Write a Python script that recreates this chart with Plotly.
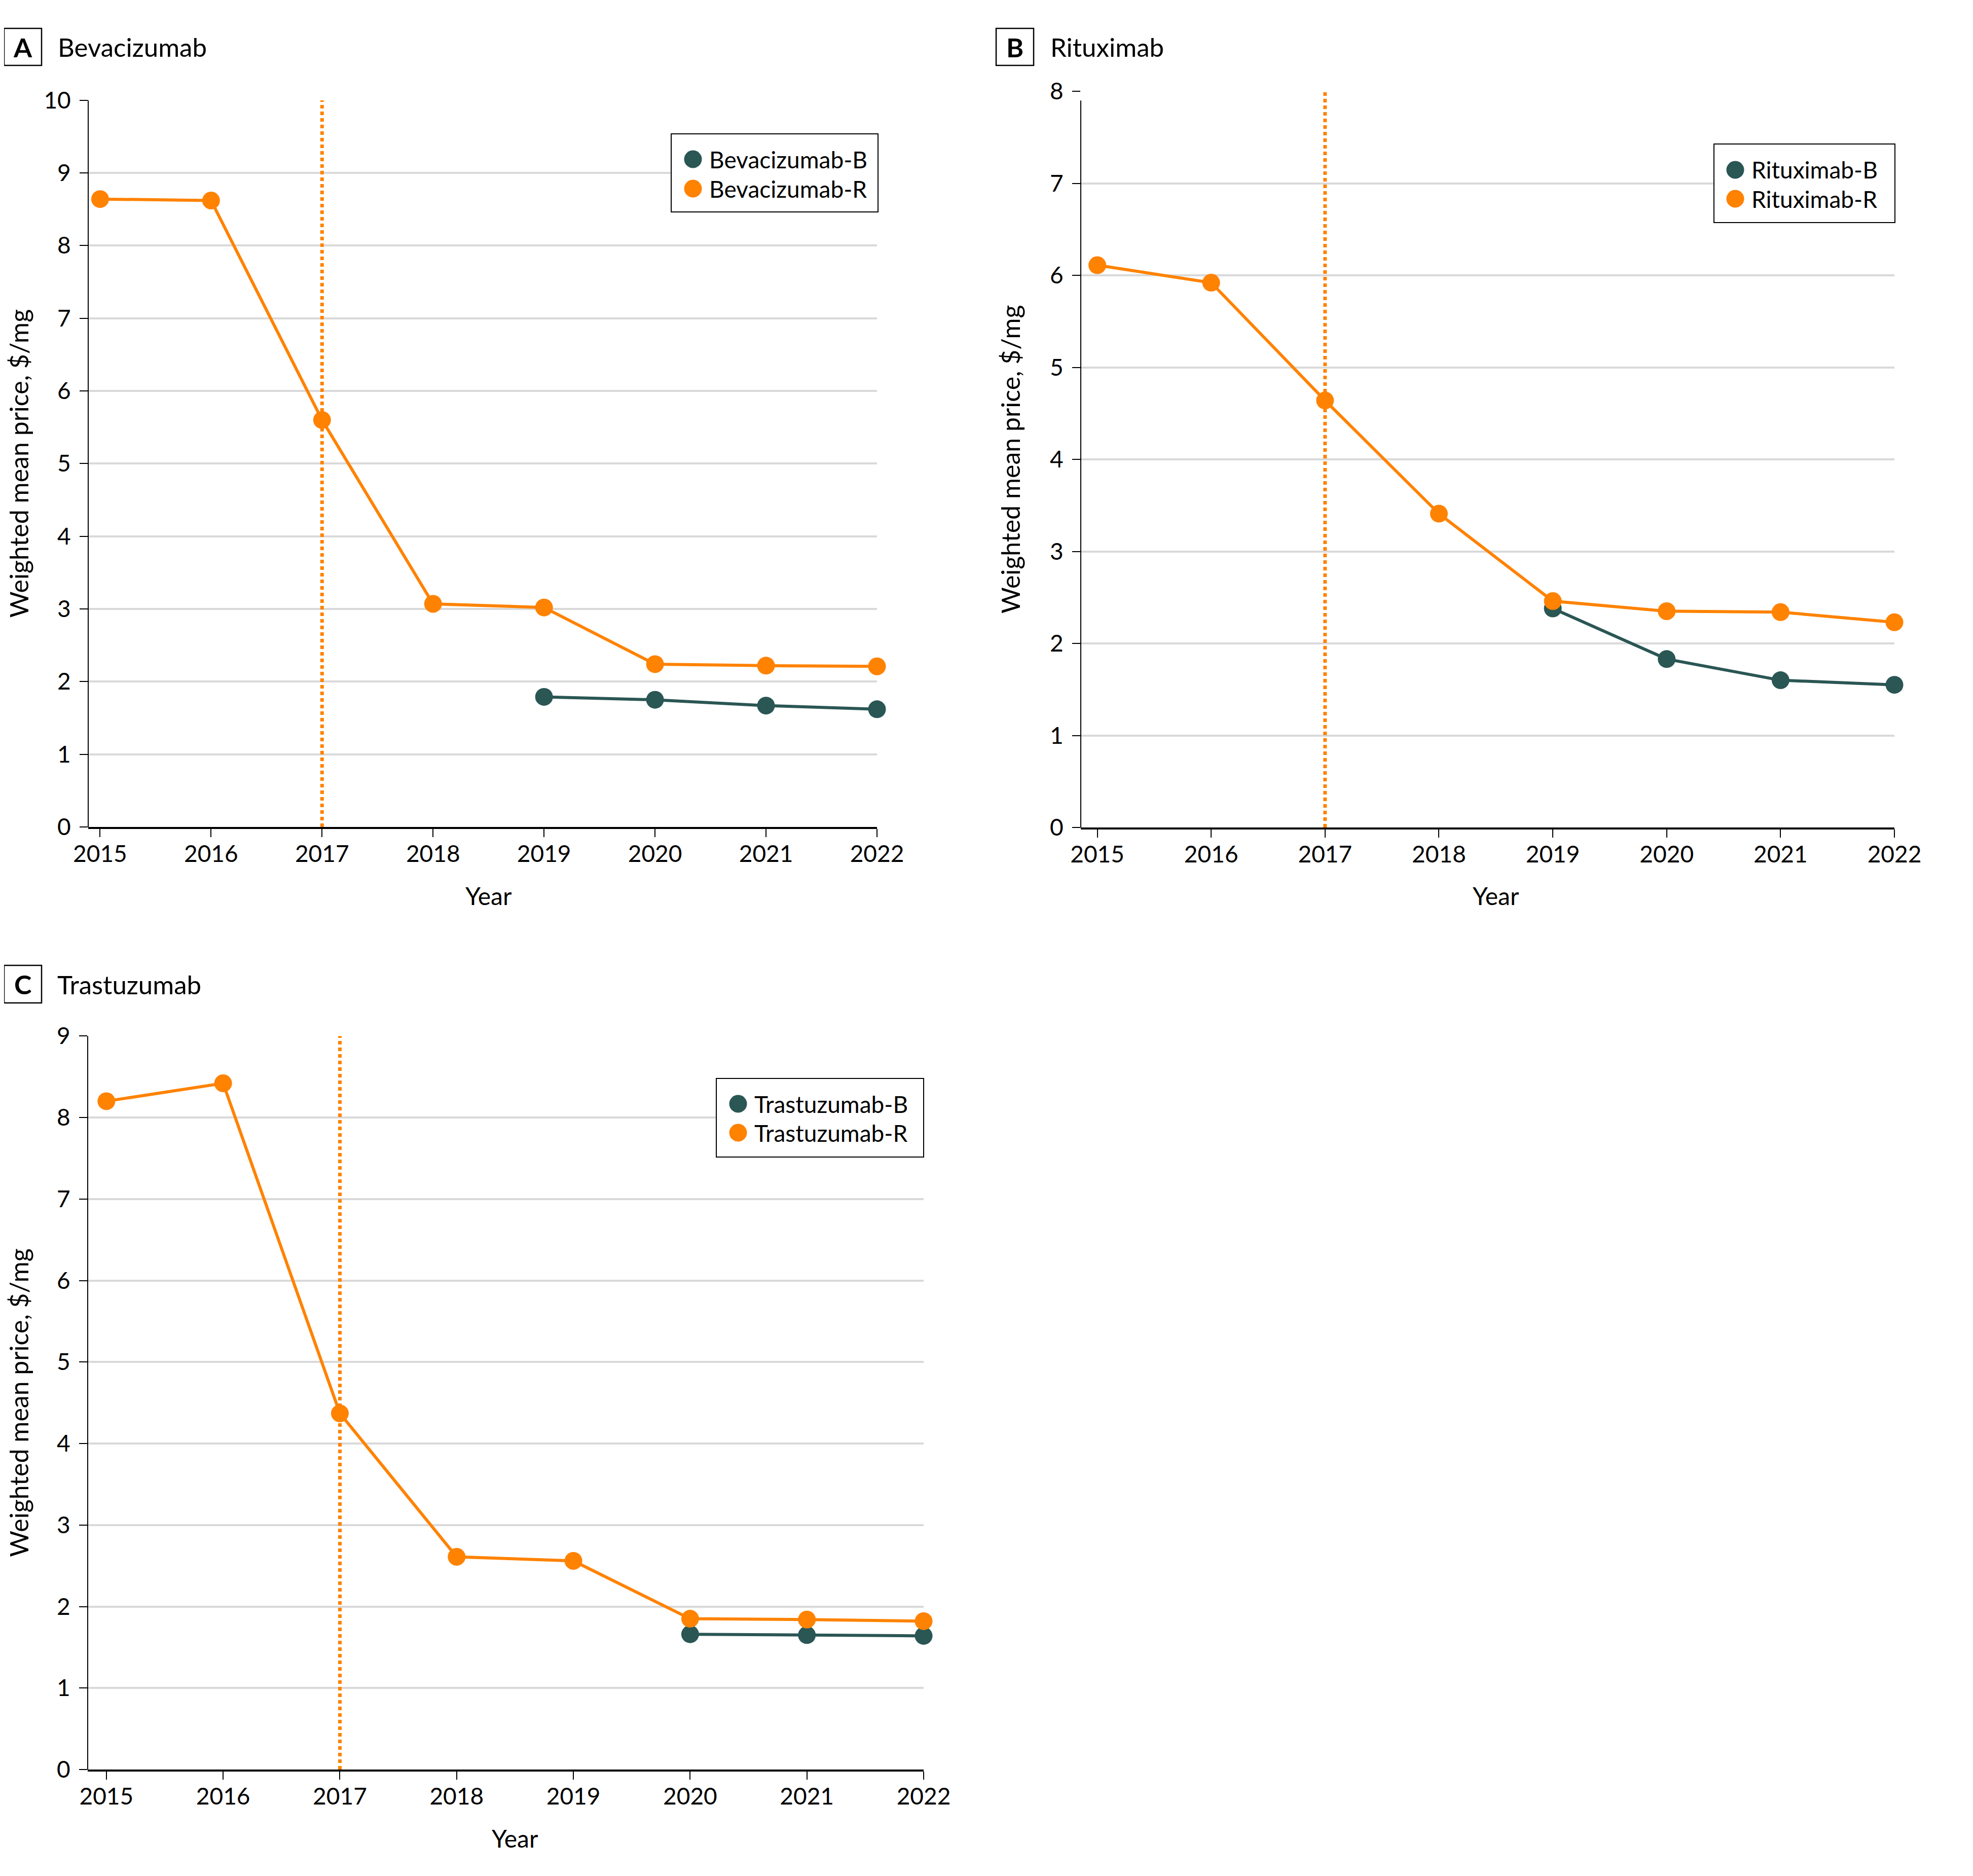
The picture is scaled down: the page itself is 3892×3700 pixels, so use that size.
import plotly.graph_objects as go

W, H = 3892, 3700
OFF = 8  # page body margin offset

# ---------------- data ----------------
years = [2015, 2016, 2017, 2018, 2019, 2020, 2021, 2022]

bev_r = [8.64, 8.62, 5.60, 3.07, 3.02, 2.24, 2.22, 2.21]
bev_b_years = [2019, 2020, 2021, 2022]
bev_b = [1.79, 1.75, 1.67, 1.62]

rit_r = [6.11, 5.92, 4.64, 3.41, 2.46, 2.35, 2.34, 2.23]
rit_b_years = [2019, 2020, 2021, 2022]
rit_b = [2.38, 1.83, 1.60, 1.55]

tra_r = [8.20, 8.42, 4.37, 2.61, 2.56, 1.85, 1.84, 1.82]
tra_b_years = [2020, 2021, 2022]
tra_b = [1.66, 1.65, 1.64]

panel_letters = ["A", "B", "C"]
panel_names = ["Bevacizumab", "Rituximab", "Trastuzumab"]
y_title = "Weighted mean price, $/mg"
x_title = "Year"
switch_year = 2017

ORANGE = "#FF8200"
TEAL = "#2A5654"
FONT = "Lato"


def px(x):
    return (x - OFF) / W


def py(y):
    return 1 - (y - OFF) / H


fig = go.Figure()

panels = [
    dict(name=panel_names[0], letter=panel_letters[0], r=bev_r, by=bev_b_years, b=bev_b,
         xa="x", ya="y", xdom=(174, 1730), ydom=(197.7, 1631), xmin=2014.893, ymax=10, yline_top=10,
         box=(8, 56, 82, 129), title_x=112,
         leg=(1324, 264, 1732, 418), leg_mx=1367, leg_rows=(314, 372),
         ytitle_x=37),
    dict(name=panel_names[1], letter=panel_letters[1], r=rit_r, by=rit_b_years, b=rit_b,
         xa="x2", ya="y2", xdom=(2132, 3737), ydom=(180, 1632), xmin=2014.855, ymax=8, yline_top=7.9,
         box=(1965, 56, 2039, 129), title_x=2070,
         leg=(3381, 284, 3738, 439), leg_mx=3423, leg_rows=(335, 392),
         ytitle_x=1993),
    dict(name=panel_names[2], letter=panel_letters[2], r=tra_r, by=tra_b_years, b=tra_b,
         xa="x3", ya="y3", xdom=(173, 1822), ydom=(2043.3, 3490), xmin=2014.84, ymax=9, yline_top=9,
         box=(8, 1904, 82, 1978), title_x=111,
         leg=(1413, 2127, 1822, 2282), leg_mx=1456, leg_rows=(2177, 2234),
         ytitle_x=37),
]

shapes = []
annotations = []

for i, p in enumerate(panels):
    # traces
    fig.add_trace(go.Scatter(
        x=p["by"], y=p["b"], mode="lines+markers", xaxis=p["xa"], yaxis=p["ya"],
        line=dict(color=TEAL, width=6), marker=dict(color=TEAL, size=35),
        cliponaxis=False, showlegend=False, name=p["name"] + "-B"))
    fig.add_trace(go.Scatter(
        x=years, y=p["r"], mode="lines+markers", xaxis=p["xa"], yaxis=p["ya"],
        line=dict(color=ORANGE, width=6), marker=dict(color=ORANGE, size=35),
        cliponaxis=False, showlegend=False, name=p["name"] + "-R"))

    sfx = "" if i == 0 else str(i + 1)
    xkey = "xaxis" + sfx
    ykey = "yaxis" + sfx
    tickfont = dict(family=FONT, size=46, color="black")
    fig.update_layout(**{
        xkey: dict(domain=[px(p["xdom"][0]), px(p["xdom"][1])], range=[p["xmin"], 2022],
                   anchor=p["ya"], tickmode="array", tickvals=years,
                   ticktext=[str(y) for y in years], automargin=False,
                   showgrid=False, zeroline=False, showline=True, linecolor="black",
                   linewidth=4, ticks="outside", ticklen=16, tickwidth=2, tickcolor="black",
                   tickfont=tickfont, ticklabelstandoff=-6),
        ykey: dict(domain=[py(p["ydom"][1]), py(p["ydom"][0])], range=[0, p["ymax"]],
                   anchor=p["xa"], tick0=0, dtick=1, showgrid=True, gridcolor="#d9d9d9",
                   gridwidth=3.5, zeroline=False, showline=False, ticks="outside",
                   ticklen=16, tickwidth=2, tickcolor="black", tickfont=tickfont,
                   ticklabelstandoff=8, automargin=False),
    })

    # y axis line
    shapes.append(dict(type="line", xref=p["xa"] + " domain", yref=p["ya"],
                       x0=0, x1=0, y0=0, y1=p["yline_top"],
                       line=dict(color="black", width=2), layer="above"))
    # dotted line at switch year
    shapes.append(dict(type="line", xref=p["xa"], yref=p["ya"],
                       x0=switch_year, x1=switch_year, y0=0, y1=p["ymax"],
                       line=dict(color=ORANGE, width=7, dash="7px,6px"), layer="between"))

    # panel letter box
    bx0, by0, bx1, by1 = p["box"]
    shapes.append(dict(type="rect", xref="paper", yref="paper",
                       x0=px(bx0), x1=px(bx1), y0=py(by1), y1=py(by0),
                       line=dict(color="black", width=2.5), fillcolor="white"))
    annotations.append(dict(xref="paper", yref="paper", x=px((bx0 + bx1) / 2),
                            y=py((by0 + by1) / 2), text="<b>" + p["letter"] + "</b>",
                            showarrow=False, xanchor="center", yanchor="middle",
                            font=dict(family=FONT, size=52, color="black")))
    annotations.append(dict(xref="paper", yref="paper", x=px(p["title_x"]),
                            y=py((by0 + by1) / 2), text=p["name"],
                            showarrow=False, xanchor="left", yanchor="middle",
                            font=dict(family=FONT, size=51, color="black")))

    # axis titles
    annotations.append(dict(xref=p["xa"], yref="paper", x=2018.5,
                            y=py(p["ydom"][1] + 135), text=x_title,
                            showarrow=False, xanchor="center", yanchor="middle",
                            font=dict(family=FONT, size=48, color="black")))
    annotations.append(dict(xref="paper", yref="paper", x=px(p["ytitle_x"]),
                            y=py((p["ydom"][0] + p["ydom"][1]) / 2), text=y_title,
                            textangle=-90, showarrow=False, xanchor="center",
                            yanchor="middle",
                            font=dict(family=FONT, size=50, color="black")))

    # legend box
    lx0, ly0, lx1, ly1 = p["leg"]
    shapes.append(dict(type="rect", xref="paper", yref="paper",
                       x0=px(lx0), x1=px(lx1), y0=py(ly1), y1=py(ly0),
                       line=dict(color="black", width=2), fillcolor="white", layer="above"))
    r = 17.5
    for row_y, col, lab in zip(p["leg_rows"], [TEAL, ORANGE],
                               [p["name"] + "-B", p["name"] + "-R"]):
        shapes.append(dict(type="circle", xref="paper", yref="paper",
                           x0=px(p["leg_mx"] - r), x1=px(p["leg_mx"] + r),
                           y0=py(row_y + r), y1=py(row_y - r),
                           fillcolor=col, line=dict(width=0), layer="above"))
        annotations.append(dict(xref="paper", yref="paper", x=px(p["leg_mx"] + 30),
                                y=py(row_y), text=lab, showarrow=False,
                                xanchor="left", yanchor="middle",
                                font=dict(family=FONT, size=46, color="black")))

fig.update_layout(
    width=W, height=H,
    margin=dict(l=0, r=0, t=0, b=0, pad=0, autoexpand=False),
    paper_bgcolor="white", plot_bgcolor="white",
    showlegend=False,
    shapes=shapes, annotations=annotations,
    font=dict(family=FONT, color="black"),
)

fig.write_html("out.html")
